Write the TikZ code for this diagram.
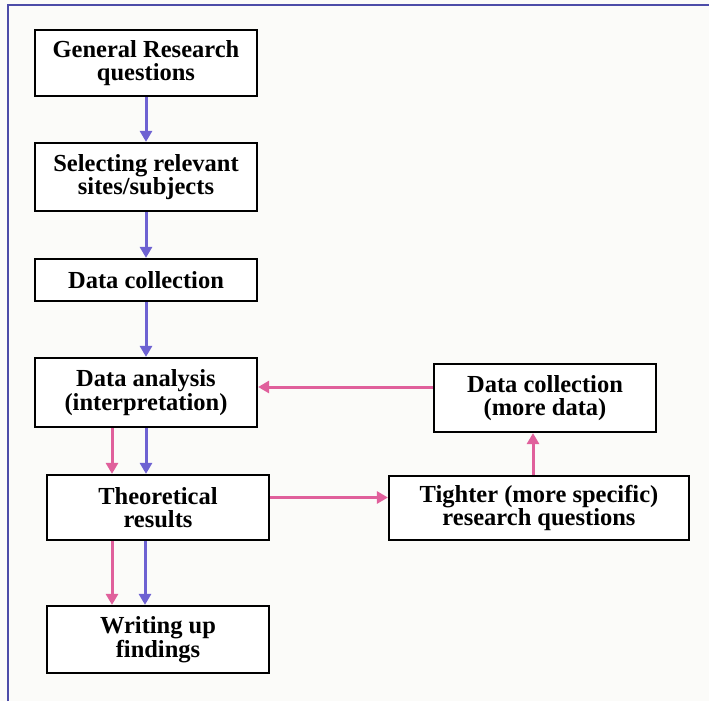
\documentclass[tikz,border=0pt]{standalone}
\usepackage{fontspec}
\setmainfont{Liberation Serif}
\usetikzlibrary{arrows.meta}
\definecolor{flowblue}{HTML}{6E62D2}
\definecolor{flowpink}{HTML}{E0609C}
\definecolor{rulecol}{HTML}{4C4CA8}
\definecolor{paper}{HTML}{FBFBF9}
\tikzset{
  stage/.style={draw=black, line width=2.2pt, fill=white, minimum width=222pt,
    align=center, inner sep=2pt, font=\bfseries\fontsize{24.5}{23.5}\selectfont},
  mainflow/.style={draw=flowblue, line width=3pt, -{Triangle[length=11pt,width=12pt]}},
  loopflow/.style={draw=flowpink, line width=3pt, -{Triangle[length=11pt,width=12pt]}},
  framerule/.style={draw=rulecol, line width=2.4pt}
}
\begin{document}
\begin{tikzpicture}[x=1pt,y=-1pt]
  \fill[paper] (0,0) rectangle (709,701);
  \useasboundingbox (0,0) rectangle (709,701);
  % page frame, running off the right and bottom edges
  \coordinate (fa) at (8,701);
  \coordinate (fb) at (8,5);
  \coordinate (fc) at (709,5);
  \draw[framerule] (fa) -- (fb) -- (fc);

  % left column of stages
  \node[stage, minimum height=66pt] (b1) at (146,63) {General Research\\questions};
  \node[stage, minimum height=68pt] (b2) at (146,177) {Selecting relevant\\sites/subjects};
  \node[stage, minimum height=42pt] (b3) at (146,280) {Data collection};
  \node[stage, minimum height=69pt] (b4) at (146,392.5) {Data analysis\\(interpretation)};
  \node[stage, minimum height=65pt] (b5) at (158,507.5) {Theoretical\\results};
  \node[stage, minimum height=67pt] (b6) at (158,639.5) {Writing up\\findings};

  % right-hand loop
  \node[stage, minimum height=68pt] (b7) at (545,398) {Data collection\\(more data)};
  \node[stage, minimum height=64pt, minimum width=300pt] (b8) at (539,508) {Tighter (more specific)\\research questions};

  % main sequence
  \draw[mainflow] (b1.south) -- (b2.north);
  \draw[mainflow] (b2.south) -- (b3.north);
  \draw[mainflow] (b3.south) -- (b4.north);
  \draw[mainflow] (b4.south) -- (b4.south |- b5.north);
  \draw[mainflow] ([xshift=-13pt]b5.south) -- ([xshift=-13pt]b5.south |- b6.north);

  % iterative loop
  \draw[loopflow] ([xshift=-34pt]b4.south) -- ([xshift=-34pt]b4.south |- b5.north);
  \draw[loopflow] ([xshift=-46pt]b5.south) -- ([xshift=-46pt]b5.south |- b6.north);
  \draw[loopflow] ([yshift=10pt]b5.east) -- ([yshift=10pt]b5.east -| b8.west);
  \draw[loopflow] ([xshift=-6pt]b8.north) -- ([xshift=-6pt]b8.north |- b7.south);
  \draw[loopflow] ([yshift=11pt]b7.west) -- ([yshift=11pt]b7.west -| b4.east);
\end{tikzpicture}
\end{document}
